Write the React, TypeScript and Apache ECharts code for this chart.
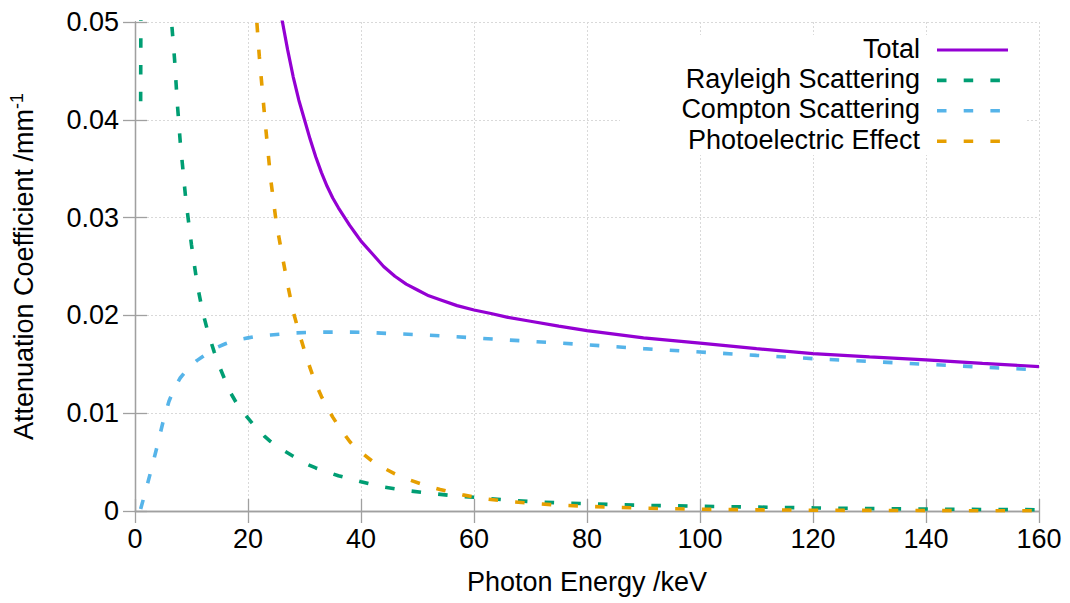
import React, { useEffect, useRef } from "react";
import * as echarts from "echarts";

// ---- Data ----
const seriesNames = ["Total", "Rayleigh Scattering", "Compton Scattering", "Photoelectric Effect"];
const seriesColors = ["#9400d3", "#009e73", "#56b4e9", "#e69f00"];

const xTicks = [0, 20, 40, 60, 80, 100, 120, 140, 160];
const yTicks = [0, 0.01, 0.02, 0.03, 0.04, 0.05];

const totalEnergy = [20, 24, 25, 26, 27, 28, 29, 30, 31, 32, 33, 34, 35, 36, 37, 38, 39, 40, 42, 44, 46, 48, 50, 52, 54, 57, 60, 63, 66, 70, 75, 80, 90, 100, 110, 120, 130, 140, 150, 160];
const totalValues = [0.092, 0.059, 0.0545, 0.0503, 0.0472, 0.0444, 0.042, 0.04, 0.038, 0.0362, 0.0346, 0.0332, 0.032, 0.031, 0.0301, 0.0292, 0.0284, 0.0276, 0.0263, 0.025, 0.024, 0.0232, 0.0226, 0.022, 0.0216, 0.021, 0.02055, 0.0202, 0.0198, 0.0194, 0.0189, 0.01845, 0.0177, 0.01716, 0.0166, 0.0161, 0.01575, 0.01546, 0.0151, 0.01477];

const rayleighEnergy = [1, 2, 3, 4, 5, 6, 6.5, 7, 7.5, 8, 9, 10, 11, 12, 13, 14, 15, 16, 17, 18, 19, 20, 21, 22, 23, 24, 25, 26, 28, 30, 32, 34, 36, 38, 40, 44, 48, 52, 56, 60, 65, 70, 75, 80, 85, 90, 100, 110, 120, 130, 140, 150, 160];
const rayleighValues = [0.0419, 0.26, 0.148, 0.098, 0.0722, 0.0556, 0.0498, 0.0462, 0.0416, 0.0378, 0.0318, 0.0272, 0.0232, 0.0203, 0.0181, 0.0163, 0.0147, 0.0133, 0.012, 0.011, 0.0102, 0.0095, 0.0088, 0.0082, 0.0076, 0.0071, 0.0067, 0.0063, 0.0056, 0.0049, 0.0044, 0.0040, 0.0036, 0.0033, 0.003, 0.00245, 0.0021, 0.00183, 0.00158, 0.0014, 0.00117, 0.00096, 0.00084, 0.00075, 0.00065, 0.00058, 0.00049, 0.0004, 0.00032, 0.00025, 0.0002, 0.00016, 0.00013];

const comptonEnergy = [1, 2, 3, 4, 5, 6, 7, 8, 9, 10, 11, 12, 13, 14, 16, 18, 20, 22, 24, 26, 28, 32, 36, 40, 45, 50, 55, 60, 65, 70, 80, 90, 100, 110, 120, 130, 140, 150, 160];
const comptonValues = [0.0002, 0.0023, 0.0045, 0.0068, 0.0092, 0.0112, 0.0126, 0.0136, 0.0143, 0.0149, 0.0154, 0.0158, 0.0162, 0.0166, 0.0171, 0.0175, 0.0177, 0.0179, 0.018, 0.0181, 0.0182, 0.01828, 0.0183, 0.01828, 0.01815, 0.01803, 0.01788, 0.0177, 0.01752, 0.01735, 0.017, 0.0166, 0.01626, 0.01591, 0.01558, 0.01529, 0.015, 0.01471, 0.01443];

const photoEnergy = [15, 20, 21, 22, 23, 24, 25, 26, 27, 28, 29, 30, 31, 32, 33, 34, 35, 36, 37, 38, 39, 40, 42, 44, 46, 48, 51, 54, 58, 62, 66, 70, 75, 80, 85, 90, 100, 110, 120, 130, 140, 150, 160];
const photoValues = [0.2, 0.064, 0.0545, 0.0465, 0.04, 0.034, 0.0295, 0.0263, 0.0232, 0.0204, 0.0183, 0.0164, 0.0146, 0.013, 0.0117, 0.0106, 0.0096, 0.0087, 0.0079, 0.0071, 0.0065, 0.006, 0.0051, 0.0044, 0.0038, 0.0033, 0.0027, 0.0022, 0.00165, 0.00125, 0.00097, 0.0008, 0.0006, 0.00048, 0.00037, 0.00029, 0.00018, 0.00012, 0.00008, 0.00006, 0.00004, 0.00003, 0.00002];

const FONT = '"Liberation Sans", Arial, sans-serif';
const FS = 27;

function zip(xs: number[], ys: number[]) {
  return xs.map((x, i) => [x, ys[i]]);
}

export default function App() {
  const ref = useRef<HTMLDivElement>(null);

  useEffect(() => {
    if (!ref.current) return;
    const chart = echarts.init(ref.current, undefined, { renderer: "svg" });

    const gridLeft = 133;
    const gridTop = 22;
    const gridW = 906;
    const gridH = 489;
    const axisGray = "#a0a0a0";

    const seriesData = [
      zip(totalEnergy, totalValues),
      zip(rayleighEnergy, rayleighValues),
      zip(comptonEnergy, comptonValues),
      zip(photoEnergy, photoValues),
    ];

    const dash = [9.5, 17.2];

    const legendX = 920;
    const legendY0 = 48.5;
    const legendStep = 30.4;

    const legendGraphics: any[] = [
      {
        type: "rect",
        z: 1,
        shape: { x: 620, y: 35, width: 405, height: 120 },
        style: { fill: "#ffffff" },
      },
    ];
    seriesNames.forEach((name, i) => {
      const y = legendY0 + i * legendStep;
      legendGraphics.push({
        type: "text",
        z: 5,
        x: legendX,
        y: y,
        style: {
          text: name,
          fill: "#000",
          fontSize: FS,
          fontFamily: FONT,
          align: "right",
          verticalAlign: "middle",
        },
      });
      legendGraphics.push({
        type: "line",
        z: 5,
        shape: { x1: 937, y1: y + 1.5, x2: 1008, y2: y + 1.5 },
        style: {
          stroke: seriesColors[i],
          lineWidth: i === 0 ? 3.2 : 3.6,
          lineDash: i === 0 ? null : dash,
        },
      });
    });

    const yFmt = (v: number) => (v === 0 ? "0" : v.toFixed(2));

    chart.setOption({
      animation: false,
      backgroundColor: "#ffffff",
      grid: { left: gridLeft, top: gridTop, width: gridW, height: gridH, containLabel: false },
      xAxis: [
        {
          type: "value",
          min: xTicks[0],
          max: xTicks[xTicks.length - 1],
          interval: 20,
          position: "bottom",
          name: "Photon Energy /keV",
          nameLocation: "middle",
          nameGap: 57,
          nameTextStyle: { fontSize: FS, color: "#000", fontFamily: FONT },
          axisLine: { show: true, lineStyle: { color: axisGray, width: 1.3 } },
          axisTick: { show: true, inside: true, length: 12, lineStyle: { color: axisGray, width: 1.3 } },
          axisLabel: { fontSize: FS, color: "#000", fontFamily: FONT, margin: 14 },
          splitLine: { show: true, lineStyle: { color: "#d9d9d9", type: [2, 2], width: 1 } },
        },
        {
          type: "value",
          min: xTicks[0],
          max: xTicks[xTicks.length - 1],
          interval: 20,
          position: "top",
          axisLine: { show: true, lineStyle: { color: axisGray, width: 1.3 } },
          axisTick: { show: true, inside: true, length: 12, lineStyle: { color: axisGray, width: 1.3 } },
          axisLabel: { show: false },
          splitLine: { show: false },
        },
      ],
      yAxis: [
        {
          type: "value",
          min: yTicks[0],
          max: yTicks[yTicks.length - 1],
          interval: 0.01,
          position: "left",
          name: "Attenuation Coefficient /mm{sup|-1}",
          nameLocation: "middle",
          nameGap: 96,
          nameRotate: 90,
          nameTextStyle: {
            fontSize: FS,
            color: "#000",
            fontFamily: FONT,
            lineHeight: 31,
            rich: {
              sup: { fontSize: 18, color: "#000", fontFamily: FONT, verticalAlign: "top", lineHeight: 31 },
            },
          },
          axisLine: { show: true, lineStyle: { color: axisGray, width: 1.3 } },
          axisTick: { show: true, inside: true, length: 12, lineStyle: { color: axisGray, width: 1.3 } },
          axisLabel: { fontSize: FS, color: "#000", fontFamily: FONT, margin: 16, formatter: yFmt },
          splitLine: { show: true, lineStyle: { color: "#d9d9d9", type: [2, 2], width: 1 } },
        },
        {
          type: "value",
          min: yTicks[0],
          max: yTicks[yTicks.length - 1],
          interval: 0.01,
          position: "right",
          axisLine: { show: true, lineStyle: { color: axisGray, width: 1.3 } },
          axisTick: { show: true, inside: true, length: 12, lineStyle: { color: axisGray, width: 1.3 } },
          axisLabel: { show: false },
          splitLine: { show: false },
        },
      ],
      graphic: legendGraphics,
      series: seriesNames.map((name, i) => ({
        name,
        type: "line",
        xAxisIndex: 0,
        yAxisIndex: 0,
        data: seriesData[i],
        showSymbol: false,
        symbol: "none",
        smooth: false,
        clip: true,
        z: 3 + i,
        lineStyle: {
          color: seriesColors[i],
          width: i === 0 ? 3.2 : 3.6,
          type: i === 0 ? "solid" : dash,
          cap: "butt",
        },
      })),
    });

    return () => chart.dispose();
  }, []);

  return (
    <div
      ref={ref}
      style={{ position: "fixed", left: 0, top: 0, width: 1070, height: 603, background: "#fff" }}
    />
  );
}
